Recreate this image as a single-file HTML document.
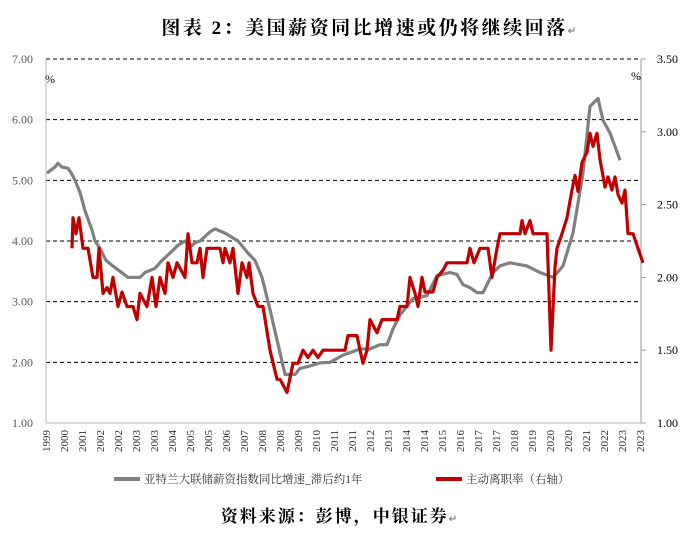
<!DOCTYPE html>
<html><head><meta charset="utf-8"><style>
body{margin:0;background:#fff;width:694px;height:537px;overflow:hidden}
svg{display:block}
</style></head><body>
<svg id="chart" width="694" height="537" font-family="'Liberation Serif','Noto Serif CJK SC',serif">
<text x="370" y="34" text-anchor="middle" font-size="19" font-weight="bold" letter-spacing="2.5" font-family="'Liberation Serif','Noto Serif CJK SC',serif">图表 2：美国薪资同比增速或仍将继续回落<tspan font-size="10" fill="#888">↵</tspan></text>
<g id="grid"></g>
<g id="axes"></g>
<g id="series"></g>
<text x="45" y="83" font-size="12">%</text>
<text x="631" y="80" font-size="12">%</text>
<g>
<line x1="114" y1="479" x2="140" y2="479" stroke="#808080" stroke-width="4"/>
<text x="144" y="483" font-size="11.5" fill="#333" font-family="'Liberation Serif','Noto Serif CJK SC',serif">亚特兰大联储薪资指数同比增速_滞后约1年</text>
<line x1="436" y1="479" x2="462" y2="479" stroke="#c00000" stroke-width="4"/>
<text x="466" y="483" font-size="11.5" fill="#333" font-family="'Liberation Serif','Noto Serif CJK SC',serif">主动离职率（右轴）</text>
</g>
<text x="340" y="522" text-anchor="middle" font-size="17" font-weight="bold" letter-spacing="2" font-family="'Liberation Serif','Noto Serif CJK SC',serif">资料来源：彭博，中银证券<tspan font-size="10" fill="#888">↵</tspan></text>
</svg>
<script>
const leftTicks=[1,2,3,4,5,6,7];
const rightTicks=[1.0,1.5,2.0,2.5,3.0,3.5];
const xLabels=["1999","2000","2001","2002","2002","2003","2003","2004","2005","2005","2006","2007","2008","2008","2009","2010","2011","2011","2012","2013","2014","2014","2015","2016","2017","2017","2018","2019","2020","2020","2021","2022","2023","2023"];
// months since Jan 1999
const wageMonths=[0.5,4.5,6,8,11,13,14.5,17,19.5,23,24.5,27,30,33,37,41,47,49.5,54.5,58,62,66,69.5,72,74.5,77,82,84.5,89.5,96,101,104.5,108,112,116,119.5,124.5,127,132,137,142,147,148.5,157,162,167,170.5,173.5,177,183.5,190.5,195.5,202,205.5,208.5,212,215.5,218.5,223.5,227,232,240.5,247,253.5,258.5,263.5,268.5,272,276,278.5,282,284.5,287];
const wageValues=[5.12,5.22,5.28,5.22,5.2,5.1,5.0,4.8,4.5,4.18,4.0,3.88,3.68,3.6,3.5,3.4,3.4,3.48,3.55,3.68,3.8,3.93,4.0,3.9,3.97,4.0,4.15,4.2,4.13,4.0,3.8,3.68,3.4,2.87,2.3,1.8,1.8,1.9,1.94,1.99,2.0,2.09,2.12,2.22,2.22,2.29,2.29,2.55,2.78,3.05,3.1,3.43,3.48,3.45,3.28,3.23,3.15,3.15,3.48,3.59,3.64,3.59,3.48,3.4,3.59,4.13,5.12,6.22,6.35,5.99,5.78,5.56,5.33];
const quitMonths=[13,13.5,15,16.5,18.5,21,23.5,25.5,26.5,28.5,30.5,32,33.5,36,38,40.5,43.5,45.5,47,50.5,53,55,57,59.5,61,63.5,65.5,69.5,71,73,75.5,77,78.5,80.5,87,88.5,89.5,92,93.5,96,98,100.5,101.5,103.5,106,108.5,112,115.5,117,120.5,123.5,126,128.5,131,133.5,136,138.5,141,149.5,151,155.5,157,158.5,160.5,162,165.5,168,175.5,177,180.5,182,184.5,186,188,189.5,193.5,195.5,198.5,200.5,210.5,212,214,217,221,223,225.5,227,237,238,239.5,242,243.5,250.5,252.5,254.5,255.5,258,260.5,263,264.5,266,268,270.5,272,273.5,275.5,277,279.5,281,283,284.5,286,288,289.5,291,293.5,296,298.5];
const quitValues=[2.2,2.41,2.3,2.41,2.2,2.2,2.0,2.0,2.2,1.89,1.93,1.89,2.0,1.8,1.9,1.8,1.8,1.71,1.89,1.8,2.0,1.8,2.0,1.89,2.1,2.0,2.1,2.0,2.3,2.1,2.1,2.2,2.0,2.2,2.2,2.1,2.2,2.1,2.2,1.89,2.1,2.0,2.1,1.89,1.8,1.8,1.5,1.3,1.3,1.21,1.41,1.41,1.5,1.45,1.5,1.45,1.5,1.5,1.5,1.6,1.6,1.5,1.41,1.5,1.71,1.62,1.71,1.71,1.8,1.8,2.0,1.89,1.8,2.0,1.9,1.9,2.0,2.05,2.1,2.1,2.2,2.1,2.2,2.2,2.0,2.2,2.3,2.3,2.39,2.3,2.39,2.3,2.3,1.5,2.07,2.2,2.3,2.41,2.6,2.7,2.59,2.79,2.86,2.99,2.9,2.99,2.81,2.62,2.69,2.6,2.69,2.57,2.51,2.6,2.3,2.3,2.2,2.1];
const NS="http://www.w3.org/2000/svg";
const X0=46,X1=641,YT=59,YB=423;
const xScale=m=>X0+m*(594/297);
const yL=v=>YB-(v-1)*(YB-YT)/6;
const yR=v=>YB-(v-1)*(YB-YT)/2.5;
function mk(tag,attrs,parent){const e=document.createElementNS(NS,tag);for(const k in attrs)e.setAttribute(k,attrs[k]);parent.appendChild(e);return e;}
const grid=document.getElementById('grid'),axes=document.getElementById('axes'),ser=document.getElementById('series');
leftTicks.forEach(v=>{
  if(v>1){const l=mk('line',{x1:X0,x2:X1,y1:yL(v),y2:yL(v),stroke:'#000','stroke-width':1,'stroke-dasharray':'4,3'},grid);
  
  }
  const t=mk('text',{x:33,y:yL(v)+4,'text-anchor':'end','font-size':12,fill:'#595959'},axes);
  t.textContent=v.toFixed(2);
  
  
});
rightTicks.forEach(v=>{
  const l=mk('line',{x1:X1,x2:X1+5,y1:yR(v),y2:yR(v),stroke:'#999'},axes);
  
  
  const t=mk('text',{x:657,y:yR(v)+4,'font-size':12,fill:'#000'},axes);
  t.textContent=v.toFixed(2);
  
  
});
let ax=mk('line',{x1:X0,x2:X0,y1:YT,y2:YB,stroke:'#bbb'},axes);


ax=mk('line',{x1:X1,x2:X1,y1:YT,y2:YB,stroke:'#999'},axes);


ax=mk('line',{x1:X0,x2:X1,y1:YB,y2:YB,stroke:'#bbb'},axes);


xLabels.forEach((s,i)=>{
  const x=xScale(i*9);
  const t=mk('text',{x:0,y:0,'text-anchor':'end','font-size':11,fill:'#333',transform:`translate(${x+4},430) rotate(-90)`},axes);
  t.textContent=s;
  
  
});
function path(ms,vs,ys){return ms.map((m,i)=>(i?'L':'M')+xScale(m).toFixed(1)+','+ys(vs[i]).toFixed(1)).join('');}
const pw=mk('path',{d:path(wageMonths,wageValues,yL),fill:'none',stroke:'#808080','stroke-width':3.2,'stroke-linejoin':'round'},ser);


const pq=mk('path',{d:path(quitMonths,quitValues,yR),fill:'none',stroke:'#c00000','stroke-width':3.2,'stroke-linejoin':'round'},ser);


</script>
</body></html>
